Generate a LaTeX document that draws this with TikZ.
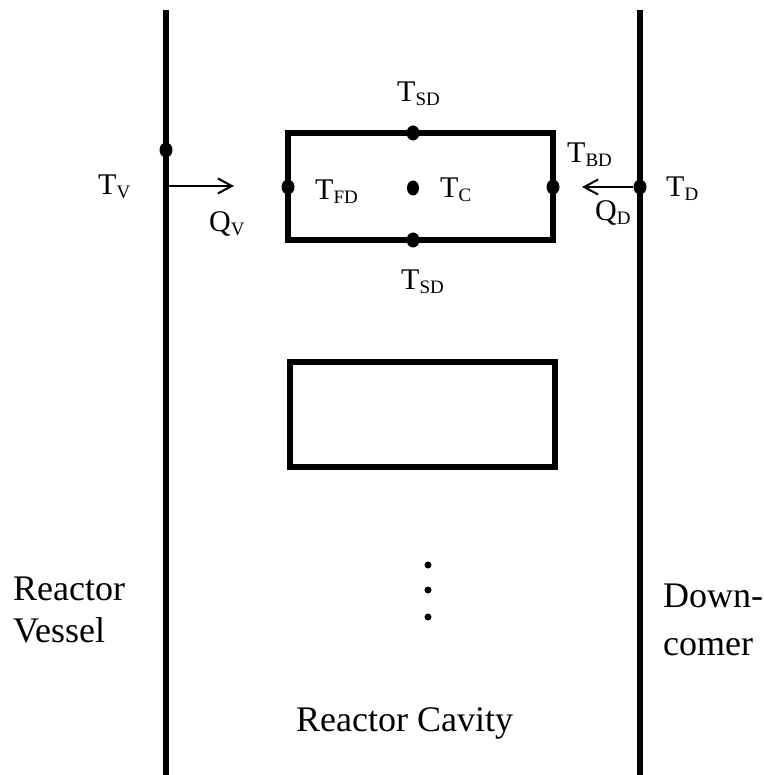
\documentclass[tikz,border=0pt]{standalone}
\usepackage{fontspec}
\setmainfont{Liberation Serif}
\usetikzlibrary{arrows.meta}
\tikzset{
  wall/.style={line width=6.5pt},
  boxline/.style={line width=6.5pt},
  flow/.style={line width=2pt,-{Straight Barb[length=14pt,width=15pt,line width=2pt]}},
  pt/.style={ellipse,fill=black,inner sep=0pt,minimum width=13pt,minimum height=15pt},
  vdot/.style={circle,fill=black,inner sep=0pt,minimum size=7pt},
  lbl/.style={font=\fontsize{30}{34}\selectfont,inner sep=0pt},
  big/.style={font=\fontsize{36}{42}\selectfont,inner sep=0pt},
}
\usetikzlibrary{shapes.geometric}
\newcommand{\sbs}[1]{\raisebox{-4pt}{\fontsize{19}{22}\selectfont #1}}
\begin{document}
\begin{tikzpicture}[x=1pt,y=-1pt]
\useasboundingbox (0,0) rectangle (763,775);
% walls
\coordinate (lwt) at (166,10); \coordinate (lwb) at (166,775);
\coordinate (rwt) at (640,10); \coordinate (rwb) at (640,775);
\draw[wall] (lwt) -- (lwb);
\draw[wall] (rwt) -- (rwb);
% boxes
\draw[boxline] (288,133) rectangle (553,240);
\draw[boxline] (290,362) rectangle (555,467);
% points
\node[pt] (tv) at (166,150) {};
\node[pt] (tsdt) at (413,133) {};
\node[pt] (tsdb) at (413,240) {};
\node[pt] (tfd) at (288,187) {};
\node[pt] (tbd) at (553,187) {};
\node[pt,minimum width=12pt] (tc) at (413,188) {};
\node[pt] (td) at (640,187) {};
% flows
\coordinate (qvs) at (168,186); \coordinate (qve) at (234,186);
\coordinate (qde) at (582,187);
\draw[flow] (qvs) -- (qve);
\draw[flow] (td) -- (qde);
% labels
\node[lbl,anchor=base west] (ltv) at (98,195) {T\sbs{V}};
\node[lbl,anchor=base west] (lqv) at (209,232) {Q\sbs{V}};
\node[lbl,anchor=base west] (ltfd) at (315,200) {T\sbs{FD}};
\node[lbl,anchor=base west] (ltc) at (440,198) {T\sbs{C}};
\node[lbl,anchor=base west] (ltbd) at (567,163) {T\sbs{BD}};
\node[lbl,anchor=base west] (ltd) at (666,197) {T\sbs{D}};
\node[lbl,anchor=base west] (lqd) at (595,221) {Q\sbs{D}};
\node[lbl,anchor=base west] (ltsdt) at (397,102) {T\sbs{SD}};
\node[lbl,anchor=base west] (ltsdb) at (401,289) {T\sbs{SD}};
% ellipsis
\node[vdot] (d1) at (428,565) {};
\node[vdot] (d2) at (428,590) {};
\node[vdot] (d3) at (428,617) {};
% region names
\node[big,anchor=base west] (rv1) at (13,600) {Reactor};
\node[big,anchor=base west] (rv2) at (13,642) {Vessel};
\node[big,anchor=base west] (dc1) at (663,607) {Down-};
\node[big,anchor=base west] (dc2) at (663,655) {comer};
\node[big,anchor=base west] (rc) at (296,731) {Reactor Cavity};
\end{tikzpicture}
\end{document}
